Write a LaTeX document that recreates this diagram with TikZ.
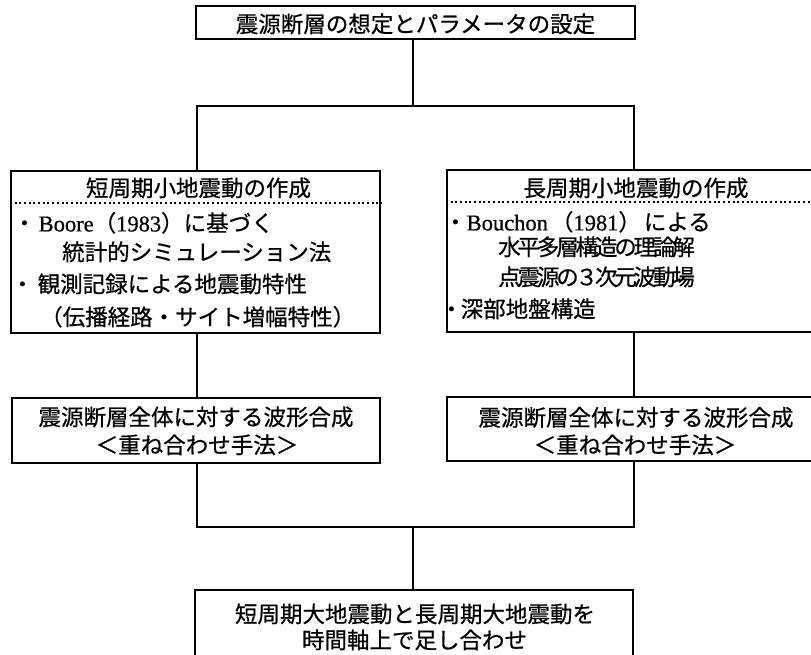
\documentclass[tikz,border=0pt]{standalone}
\usepackage{fontspec}
\setmainfont{Noto Sans CJK JP}[FakeBold=0.6]
\newfontfamily\lat{Liberation Serif}[FakeBold=0.6]
\newfontfamily\jpc{Noto Sans CJK JP}[LetterSpace=-14,FakeBold=0.6]
\newcommand\jsz{\fontsize{22.5}{27}\selectfont}
\begin{document}
\begin{tikzpicture}[x=1pt,y=-1pt,
  box/.style={draw, line width=2.4pt, rectangle, inner sep=0pt},
  conn/.style={line width=2.4pt},
  dotline/.style={line width=2pt, dash pattern=on 2pt off 2.7pt},
  tl/.style={anchor=base west, inner sep=0pt, font=\jsz},
  tc/.style={anchor=base, inner sep=0pt, font=\jsz}]
\useasboundingbox (0,0) rectangle (811,655);
\clip (0,0) rectangle (811,655);
\fill[white] (0,0) rectangle (811,655);

% boxes
\node[box, minimum width=439pt, minimum height=33pt] (top) at (415.5,22.5) {};
\node[box, minimum width=369pt, minimum height=162pt] (L1) at (195.5,252) {};
\node[box, minimum width=375pt, minimum height=162pt] (R1) at (634.5,251) {};
\node[box, minimum width=368pt, minimum height=65pt] (L2) at (196,430.5) {};
\node[box, minimum width=375pt, minimum height=64pt] (R2) at (634.5,429) {};
\node[box, minimum width=438pt, minimum height=80pt] (B) at (414,630) {};

% dotted separators
\coordinate (dL) at (0,203);
\coordinate (dR) at (0,202);
\draw[dotline] (L1.west |- dL) -- (L1.east |- dL);
\draw[dotline] (R1.west |- dR) -- (R1.east |- dR);

% texts
\node[tc] (t0) at (415.5,32.4) {震源断層の想定とパラメータの設定};

\node[tc] (l0) at (198.5,196.4) {短周期小地震動の作成};
\node[tl] (l1) at (13,231.4) {・\kern3pt{\lat Boore}（{\lat 1983}）に基づく};
\node[tl] (l2) at (62,260.4) {統計的シミュレーション法};
\node[tl] (l3) at (11,292.4) {・\kern4pt 観測記録による地震動特性};
\node[tl] (l4) at (40,325.4) {（伝播経路・サイト増幅特性）};

\node[tc] (r0) at (636,196.4) {長周期小地震動の作成};
\node[tl] (r1) at (444,230.4) {・{\lat Bouchon}\kern3pt（{\lat 1981}）\kern3pt による};
\node[tl] (r2) at (498,255.4) {\jpc 水平多層構造の理論解};
\node[tl] (r3) at (498,285.4) {\jpc 点震源の３次元波動場};
\node[tl] (r4) at (440,317.4) {・\kern-2pt 深部地盤構造};

\node[tc] (m1) at (196,425.4) {震源断層全体に対する波形合成};
\node[tc] (m2) at (197,453.4) {＜重ね合わせ手法＞};
\node[tc] (n1) at (636,425.9) {震源断層全体に対する波形合成};
\node[tc] (n2) at (635,453.4) {＜重ね合わせ手法＞};

\node[tc] (b1) at (415,622.4) {短周期大地震動と長周期大地震動を};
\node[tc] (b2) at (414.5,648.4) {時間軸上で足し合わせ};

% connectors
\coordinate (jT) at (413,106);
\coordinate (jL) at (197,106);
\coordinate (jR) at (634,106);
\coordinate (kL) at (197,527);
\coordinate (kR) at (634,527);
\coordinate (kB) at (413,527);
\draw[conn] (top.south -| jT) -- (jT);
\draw[conn] (L1.north -| jL) -- (jL) -- (jR) -- (R1.north -| jR);
\draw[conn] (L1.south -| jL) -- (L2.north -| jL);
\draw[conn] (R1.south -| jR) -- (R2.north -| jR);
\draw[conn] (L2.south -| kL) -- (kL) -- (kR) -- (R2.south -| kR);
\draw[conn] (kB) -- (B.north -| kB);
\end{tikzpicture}
\end{document}
